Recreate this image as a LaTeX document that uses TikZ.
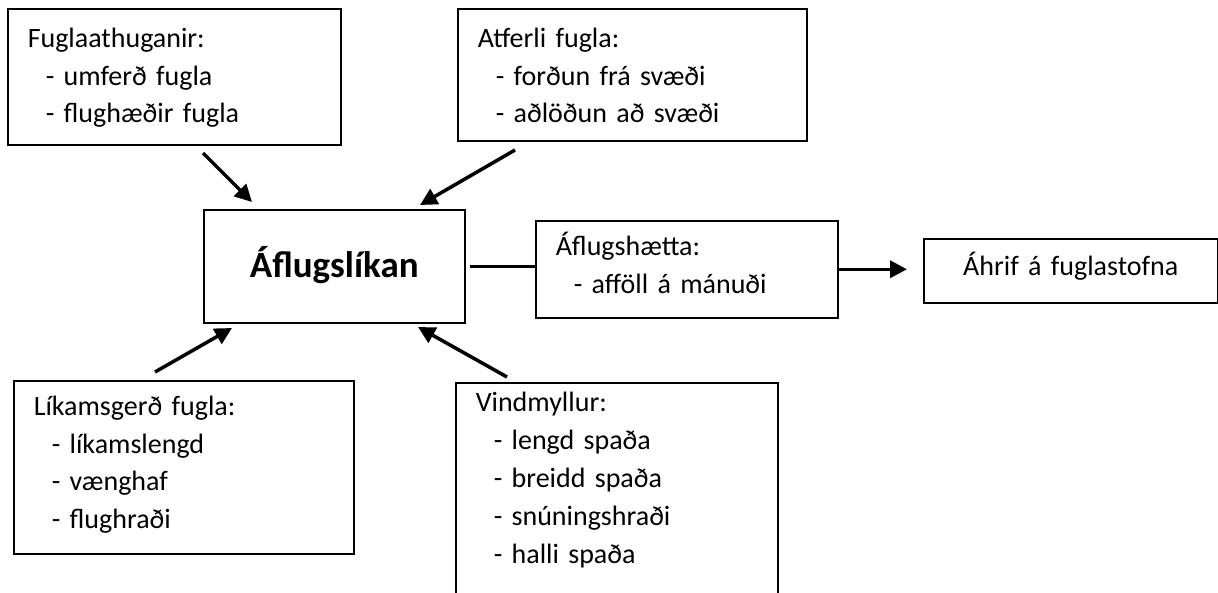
\documentclass[tikz,border=0pt]{standalone}
\usepackage{fontspec}
\setmainfont{Carlito}
\usetikzlibrary{arrows.meta}
\tikzset{
	box/.style={draw,line width=1.5pt,rectangle,inner xsep=20pt,inner ysep=0pt,anchor=north west,align=left,font=\fontsize{28}{37.5}\selectfont},%
	mainbox/.style={box,align=center,font=\bfseries\fontsize{37}{44}\selectfont},%
	link/.style={line width=3.5pt},%
	pointer/.style={link,-{Triangle[length=17pt,width=17pt]}},%
}
\newcommand{\lidur}{\hspace*{18pt}- }

\begin{document}
\begin{tikzpicture}[%
		x=1pt,y=-1pt,%
		]
		\useasboundingbox (0,0) rectangle (1218,592);
		% boxes
		\node[box,text width=293pt,text height=39pt,text depth=97pt] (fugl) at (7,8) {Fuglaathuganir:\\\lidur umferð fugla\\\lidur flughæðir fugla};
		\node[box,text width=309pt,text height=39pt,text depth=93pt] (atferli) at (457,8) {Atferli fugla:\\\lidur forðun frá svæði\\\lidur aðlöðun að svæði};
		\node[mainbox,text width=221pt,text height=68pt,text depth=45pt] (likan) at (203,209) {Áflugslíkan};
		\node[box,text width=262pt,text height=35pt,text depth=62pt] (haetta) at (535,220) {Áflugshætta:\\\lidur afföll á mánuði};
		\node[box,align=center,text width=254pt,text height=37pt,text depth=27pt] (ahrif) at (923,238) {Áhrif á fuglastofna};
		\node[box,text width=300pt,text height=35pt,text depth=138pt] (likams) at (13,380) {Líkamsgerð fugla:\\\lidur líkamslengd\\\lidur vænghaf\\\lidur flughraði};
		\node[box,font=\fontsize{28}{38}\selectfont,text width=282pt,text height=29pt,text depth=189pt] (vind) at (455,382) {Vindmyllur:\\\lidur lengd spaða\\\lidur breidd spaða\\\lidur snúningshraði\\\lidur halli spaða};
		% free ends of the arrows
		\coordinate (fugl-out) at (203,153);
		\coordinate (likan-nw) at (252,202);
		\coordinate (atferli-out) at (515,150);
		\coordinate (likan-ne) at (420,205);
		\coordinate (likams-out) at (155,372);
		\coordinate (likan-sw) at (232,328);
		\coordinate (vind-out) at (507,377);
		\coordinate (likan-se) at (418,327);
		% connectors
		\draw[pointer] (fugl-out) -- (likan-nw);
		\draw[pointer] (atferli-out) -- (likan-ne);
		\draw[pointer] (likams-out) -- (likan-sw);
		\draw[pointer] (vind-out) -- (likan-se);
		\draw[link,shorten <=4pt] (likan.east) -- (likan.east -| haetta.west);
		\draw[pointer,shorten >=16pt] (haetta.east) -- (haetta.east -| ahrif.west);
	\end{tikzpicture}
\end{document}
